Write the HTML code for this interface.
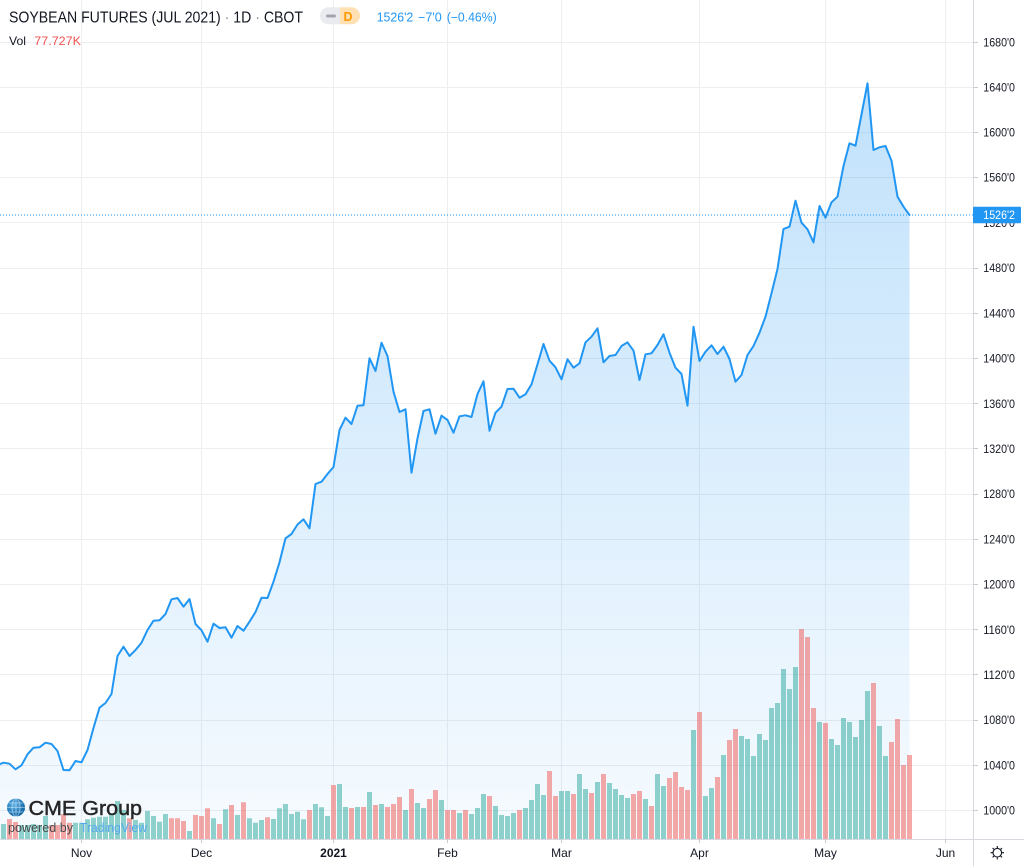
<!DOCTYPE html>
<html><head><meta charset="utf-8"><style>
html,body{margin:0;padding:0;background:#fff;}
svg{display:block;font-family:"Liberation Sans",sans-serif;}
</style></head><body>
<svg width="1024" height="866" viewBox="0 0 1024 866" xmlns="http://www.w3.org/2000/svg">
<defs>
<linearGradient id="ag" gradientUnits="userSpaceOnUse" x1="0" y1="83" x2="0" y2="839">
<stop offset="0" stop-color="rgb(33,150,243)" stop-opacity="0.28"/>
<stop offset="1" stop-color="rgb(33,150,243)" stop-opacity="0.04"/>
</linearGradient>
<radialGradient id="glb" cx="0.4" cy="0.35" r="0.7">
<stop offset="0" stop-color="#5cb3ea"/>
<stop offset="1" stop-color="#0b5f9f"/>
</radialGradient>
</defs>
<rect width="1024" height="866" fill="#fff"/>
<path stroke="#eceef2" stroke-width="1" fill="none" d="M0 42.5H973M0 87.5H973M0 132.5H973M0 177.5H973M0 222.5H973M0 268.5H973M0 313.5H973M0 358.5H973M0 403.5H973M0 448.5H973M0 494.5H973M0 539.5H973M0 584.5H973M0 629.5H973M0 674.5H973M0 720.5H973M0 765.5H973M0 810.5H973M81.5 0V839M201.5 0V839M333.5 0V839M447.5 0V839M561.5 0V839M699.5 0V839M825.5 0V839M945.5 0V839"/>
<path fill="url(#ag)" d="M-2.5,765 L3.5,762.7 9.5,763.7 15.5,769.3 21.5,765.3 27.5,754.3 33.5,747.7 39.5,747.3 45.5,742.7 51.5,744 57.5,751 63.5,770 69.5,770.3 75.5,761 81.5,762.3 87.5,750 93.5,728 99.5,707.7 105.5,703 111.5,694 117.5,656 123.5,646.7 129.5,656 135.5,650 141.5,642.7 147.5,630 153.5,620.7 159.5,620.3 165.5,614 171.5,599.3 177.5,598 183.5,606.7 189.5,599 195.5,624 201.5,630.3 207.5,641.7 213.5,623.7 219.5,628 225.5,627.3 231.5,637.7 237.5,626 243.5,630.7 249.5,621.7 255.5,612 261.5,597.7 267.5,598 273.5,581.7 279.5,562.3 285.5,538.3 291.5,534 297.5,524.5 303.5,519.3 309.5,528.3 315.5,484 321.5,481.7 327.5,474 333.5,467 339.5,430 345.5,417.7 351.5,424 357.5,405.7 363.5,405.3 369.5,358.3 375.5,371 381.5,342.7 387.5,356 393.5,391.7 399.5,412 405.5,409.3 411.5,472.7 417.5,438.3 423.5,411 429.5,409.3 435.5,433.7 441.5,415.7 447.5,420 453.5,432.7 459.5,416.3 465.5,415.3 471.5,417 477.5,394 483.5,381.3 489.5,430.7 495.5,412.7 501.5,406.7 507.5,389 513.5,388.7 519.5,397.7 525.5,394.3 531.5,384.3 537.5,364.3 543.5,344 549.5,360.7 555.5,367.3 561.5,379.3 567.5,359.3 573.5,367.7 579.5,363.3 585.5,342.3 591.5,336.7 597.5,328.3 603.5,362.3 609.5,356 615.5,355 621.5,346 627.5,342.3 633.5,350.7 639.5,380 645.5,354.3 651.5,353.3 657.5,345 663.5,334.3 669.5,352.7 675.5,367.7 681.5,374 687.5,405.7 693.5,326.7 699.5,361 705.5,351.7 711.5,345.3 717.5,354 723.5,346.7 729.5,359 735.5,381.7 741.5,375 747.5,355 753.5,346 759.5,332.7 765.5,316.7 771.5,293.3 777.5,269 783.5,229 789.5,226.7 795.5,200.7 801.5,222.7 807.5,229.3 813.5,242.3 819.5,206 825.5,217.7 831.5,202.3 837.5,196.7 843.5,166 849.5,143.3 855.5,145.7 861.5,114.5 867.5,83.3 873.5,150 879.5,147.3 885.5,146 891.5,160.7 897.5,196.7 903.5,206.7 909.5,215 L909.5,839 L-2.5,839 Z"/>
<path fill="rgba(38,166,154,0.5)" d="M1 824h5V839h-5zM19 825h5V839h-5zM25 825h5V839h-5zM31 824h5V839h-5zM37 825h5V839h-5zM43 816h5V839h-5zM73 822.7h5V839h-5zM79 822.7h5V839h-5zM85 819.3h5V839h-5zM91 817.7h5V839h-5zM97 816.7h5V839h-5zM103 816.7h5V839h-5zM109 813.3h5V839h-5zM115 801h5V839h-5zM121 810h5V839h-5zM133 820h5V839h-5zM139 822.7h5V839h-5zM145 811h5V839h-5zM151 816h5V839h-5zM157 821.7h5V839h-5zM163 814h5V839h-5zM187 831h5V839h-5zM211 818.3h5V839h-5zM223 809.3h5V839h-5zM235 815h5V839h-5zM247 818.3h5V839h-5zM253 822.7h5V839h-5zM259 820h5V839h-5zM271 819h5V839h-5zM277 808.3h5V839h-5zM283 804h5V839h-5zM289 814h5V839h-5zM295 811.7h5V839h-5zM301 819.3h5V839h-5zM313 804h5V839h-5zM319 807.3h5V839h-5zM325 816h5V839h-5zM337 784h5V839h-5zM343 807h5V839h-5zM355 807h5V839h-5zM367 792h5V839h-5zM379 804h5V839h-5zM403 810h5V839h-5zM415 803h5V839h-5zM421 808h5V839h-5zM439 800h5V839h-5zM457 813h5V839h-5zM469 814h5V839h-5zM475 808h5V839h-5zM481 794h5V839h-5zM493 806h5V839h-5zM499 815h5V839h-5zM505 816h5V839h-5zM511 813h5V839h-5zM523 808h5V839h-5zM529 800h5V839h-5zM535 784h5V839h-5zM541 795h5V839h-5zM559 791h5V839h-5zM565 791h5V839h-5zM577 774h5V839h-5zM583 789h5V839h-5zM595 782h5V839h-5zM607 783h5V839h-5zM613 789h5V839h-5zM619 795h5V839h-5zM625 798h5V839h-5zM643 799h5V839h-5zM655 774h5V839h-5zM661 786h5V839h-5zM691 730h5V839h-5zM703 796h5V839h-5zM709 788h5V839h-5zM721 755h5V839h-5zM739 736h5V839h-5zM745 739h5V839h-5zM751 756h5V839h-5zM757 734h5V839h-5zM763 740h5V839h-5zM769 708h5V839h-5zM775 703h5V839h-5zM781 669h5V839h-5zM787 689h5V839h-5zM793 667h5V839h-5zM817 722h5V839h-5zM829 739h5V839h-5zM835 745h5V839h-5zM841 718h5V839h-5zM847 722h5V839h-5zM853 737h5V839h-5zM859 720h5V839h-5zM865 691h5V839h-5zM877 726h5V839h-5zM883 756h5V839h-5z"/>
<path fill="rgba(239,83,80,0.5)" d="M7 819h5V839h-5zM13 822h5V839h-5zM49 825h5V839h-5zM55 825h5V839h-5zM61 814h5V839h-5zM67 822.7h5V839h-5zM127 818.3h5V839h-5zM169 818.3h5V839h-5zM175 818.3h5V839h-5zM181 821h5V839h-5zM193 815h5V839h-5zM199 816h5V839h-5zM205 808.3h5V839h-5zM217 824h5V839h-5zM229 805h5V839h-5zM241 802.3h5V839h-5zM265 817.3h5V839h-5zM307 810h5V839h-5zM331 785h5V839h-5zM349 808h5V839h-5zM361 807h5V839h-5zM373 805h5V839h-5zM385 807h5V839h-5zM391 804h5V839h-5zM397 797h5V839h-5zM409 789h5V839h-5zM427 799h5V839h-5zM433 790h5V839h-5zM445 810h5V839h-5zM451 810h5V839h-5zM463 810h5V839h-5zM487 796h5V839h-5zM517 810h5V839h-5zM547 771h5V839h-5zM553 796h5V839h-5zM571 794h5V839h-5zM589 793h5V839h-5zM601 774h5V839h-5zM631 794h5V839h-5zM637 791h5V839h-5zM649 806h5V839h-5zM667 778h5V839h-5zM673 772h5V839h-5zM679 787h5V839h-5zM685 790h5V839h-5zM697 712h5V839h-5zM715 777h5V839h-5zM727 740h5V839h-5zM733 729h5V839h-5zM799 629h5V839h-5zM805 637h5V839h-5zM811 708h5V839h-5zM823 723h5V839h-5zM871 683h5V839h-5zM889 742h5V839h-5zM895 719h5V839h-5zM901 765h5V839h-5zM907 755h5V839h-5z"/>
<polyline fill="none" stroke="#2196f3" stroke-width="2" stroke-linejoin="round" stroke-linecap="round" points="-2.5,765 3.5,762.7 9.5,763.7 15.5,769.3 21.5,765.3 27.5,754.3 33.5,747.7 39.5,747.3 45.5,742.7 51.5,744 57.5,751 63.5,770 69.5,770.3 75.5,761 81.5,762.3 87.5,750 93.5,728 99.5,707.7 105.5,703 111.5,694 117.5,656 123.5,646.7 129.5,656 135.5,650 141.5,642.7 147.5,630 153.5,620.7 159.5,620.3 165.5,614 171.5,599.3 177.5,598 183.5,606.7 189.5,599 195.5,624 201.5,630.3 207.5,641.7 213.5,623.7 219.5,628 225.5,627.3 231.5,637.7 237.5,626 243.5,630.7 249.5,621.7 255.5,612 261.5,597.7 267.5,598 273.5,581.7 279.5,562.3 285.5,538.3 291.5,534 297.5,524.5 303.5,519.3 309.5,528.3 315.5,484 321.5,481.7 327.5,474 333.5,467 339.5,430 345.5,417.7 351.5,424 357.5,405.7 363.5,405.3 369.5,358.3 375.5,371 381.5,342.7 387.5,356 393.5,391.7 399.5,412 405.5,409.3 411.5,472.7 417.5,438.3 423.5,411 429.5,409.3 435.5,433.7 441.5,415.7 447.5,420 453.5,432.7 459.5,416.3 465.5,415.3 471.5,417 477.5,394 483.5,381.3 489.5,430.7 495.5,412.7 501.5,406.7 507.5,389 513.5,388.7 519.5,397.7 525.5,394.3 531.5,384.3 537.5,364.3 543.5,344 549.5,360.7 555.5,367.3 561.5,379.3 567.5,359.3 573.5,367.7 579.5,363.3 585.5,342.3 591.5,336.7 597.5,328.3 603.5,362.3 609.5,356 615.5,355 621.5,346 627.5,342.3 633.5,350.7 639.5,380 645.5,354.3 651.5,353.3 657.5,345 663.5,334.3 669.5,352.7 675.5,367.7 681.5,374 687.5,405.7 693.5,326.7 699.5,361 705.5,351.7 711.5,345.3 717.5,354 723.5,346.7 729.5,359 735.5,381.7 741.5,375 747.5,355 753.5,346 759.5,332.7 765.5,316.7 771.5,293.3 777.5,269 783.5,229 789.5,226.7 795.5,200.7 801.5,222.7 807.5,229.3 813.5,242.3 819.5,206 825.5,217.7 831.5,202.3 837.5,196.7 843.5,166 849.5,143.3 855.5,145.7 861.5,114.5 867.5,83.3 873.5,150 879.5,147.3 885.5,146 891.5,160.7 897.5,196.7 903.5,206.7 909.5,215"/>
<line x1="0" y1="215" x2="973" y2="215" stroke="#2196f3" stroke-width="1" stroke-dasharray="1 2"/>
<path stroke="#d6d9df" stroke-width="1" fill="none" d="M973.5 0V866M0 839.5H1024"/>
<path stroke="#c9ccd3" stroke-width="1" fill="none" d="M973 42.5h5M973 87.5h5M973 132.5h5M973 177.5h5M973 222.5h5M973 268.5h5M973 313.5h5M973 358.5h5M973 403.5h5M973 448.5h5M973 494.5h5M973 539.5h5M973 584.5h5M973 629.5h5M973 674.5h5M973 720.5h5M973 765.5h5M973 810.5h5M81.5 839v4M201.5 839v4M333.5 839v4M447.5 839v4M561.5 839v4M699.5 839v4M825.5 839v4M945.5 839v4"/>
<g font-size="11.5" fill="#131722">
<text x="983.3" y="46.6" textLength="31.7" lengthAdjust="spacingAndGlyphs">1680'0</text>
<text x="983.3" y="91.6" textLength="31.7" lengthAdjust="spacingAndGlyphs">1640'0</text>
<text x="983.3" y="136.6" textLength="31.7" lengthAdjust="spacingAndGlyphs">1600'0</text>
<text x="983.3" y="181.6" textLength="31.7" lengthAdjust="spacingAndGlyphs">1560'0</text>
<text x="983.3" y="226.8" textLength="31.7" lengthAdjust="spacingAndGlyphs">1520'0</text>
<text x="983.3" y="272.2" textLength="31.7" lengthAdjust="spacingAndGlyphs">1480'0</text>
<text x="983.3" y="317.4" textLength="31.7" lengthAdjust="spacingAndGlyphs">1440'0</text>
<text x="983.3" y="362.6" textLength="31.7" lengthAdjust="spacingAndGlyphs">1400'0</text>
<text x="983.3" y="407.8" textLength="31.7" lengthAdjust="spacingAndGlyphs">1360'0</text>
<text x="983.3" y="453" textLength="31.7" lengthAdjust="spacingAndGlyphs">1320'0</text>
<text x="983.3" y="498.2" textLength="31.7" lengthAdjust="spacingAndGlyphs">1280'0</text>
<text x="983.3" y="543.4" textLength="31.7" lengthAdjust="spacingAndGlyphs">1240'0</text>
<text x="983.3" y="588.6" textLength="31.7" lengthAdjust="spacingAndGlyphs">1200'0</text>
<text x="983.3" y="633.8" textLength="31.7" lengthAdjust="spacingAndGlyphs">1160'0</text>
<text x="983.3" y="679" textLength="31.7" lengthAdjust="spacingAndGlyphs">1120'0</text>
<text x="983.3" y="724.2" textLength="31.7" lengthAdjust="spacingAndGlyphs">1080'0</text>
<text x="983.3" y="769.4" textLength="31.7" lengthAdjust="spacingAndGlyphs">1040'0</text>
<text x="983.3" y="814.6" textLength="31.7" lengthAdjust="spacingAndGlyphs">1000'0</text>
</g>
<rect x="973" y="206.7" width="48" height="16.6" rx="1" fill="#2196f3"/>
<text x="983.3" y="219.2" font-size="11.5" fill="#fff" textLength="31.7" lengthAdjust="spacingAndGlyphs">1526'2</text>
<g font-size="12" fill="#131722" text-anchor="middle">
<text x="81.5" y="857">Nov</text>
<text x="201.5" y="857">Dec</text>
<text x="333.5" y="857" font-weight="bold">2021</text>
<text x="447.5" y="857">Feb</text>
<text x="561.5" y="857">Mar</text>
<text x="699.5" y="857">Apr</text>
<text x="825.5" y="857">May</text>
<text x="945.5" y="857">Jun</text>
</g>
<g stroke="#131722" stroke-width="1.1" fill="none">
<circle cx="997.3" cy="852.7" r="4.3"/>
<path d="M997.3 846v2.2M997.3 857.2v2.2M990.6 852.7h2.2M1001.8 852.7h2.2M992.6 848l1.5 1.5M1000.5 855.9l1.5 1.5M1002 848l-1.5 1.5M994.1 855.9l-1.5 1.5"/>
</g>
<text x="9" y="22.3" font-size="15.5" fill="#131722" textLength="294" lengthAdjust="spacingAndGlyphs">SOYBEAN FUTURES (JUL 2021) <tspan fill="#8a8e99">·</tspan> 1D <tspan fill="#8a8e99">·</tspan> CBOT</text>
<path d="M328.5,7.3 H340 V24.3 H328.5 A8.5,8.5 0 0 1 328.5,7.3 Z" fill="#e9ebef"/>
<path d="M340,7.3 H351.5 A8.5,8.5 0 0 1 351.5,24.3 H340 Z" fill="#ffe0b2"/>
<rect x="326" y="14.5" width="10" height="3" rx="1.5" fill="#a3a6af"/>
<text x="343.5" y="21.2" font-size="12.5" font-weight="bold" fill="#ff9800">D</text>
<g font-size="12.5" fill="#2196f3">
<text x="376.7" y="21.7" textLength="36.6" lengthAdjust="spacingAndGlyphs">1526'2</text>
<text x="418" y="21.7" textLength="23.7" lengthAdjust="spacingAndGlyphs">−7'0</text>
<text x="446.7" y="21.7" textLength="50" lengthAdjust="spacingAndGlyphs">(−0.46%)</text>
</g>
<text x="9" y="45" font-size="12" fill="#131722" textLength="17" lengthAdjust="spacingAndGlyphs">Vol</text>
<text x="34.3" y="45" font-size="12" fill="#ef5350" textLength="46.7" lengthAdjust="spacingAndGlyphs">77.727K</text>
<circle cx="16" cy="807.5" r="9" fill="url(#glb)"/>
<g stroke="#ffffff" stroke-opacity="0.55" stroke-width="0.8" fill="none">
<ellipse cx="16" cy="807.5" rx="4" ry="9"/>
<path d="M7 807.5h18M8.5 803h15M8.5 812h15M16 798.5v18"/>
</g>
<text x="28.5" y="815" font-size="20" fill="#262626" stroke="#262626" stroke-width="0.45" textLength="113.5" lengthAdjust="spacingAndGlyphs">CME Group</text>
<text x="8" y="832" font-size="12.5" fill="#4a4a4a" textLength="65" lengthAdjust="spacingAndGlyphs">powered by</text>
<text x="80" y="832" font-size="12.5" fill="#57a9ef" textLength="67" lengthAdjust="spacingAndGlyphs">TradingView</text>
</svg>
</body></html>
